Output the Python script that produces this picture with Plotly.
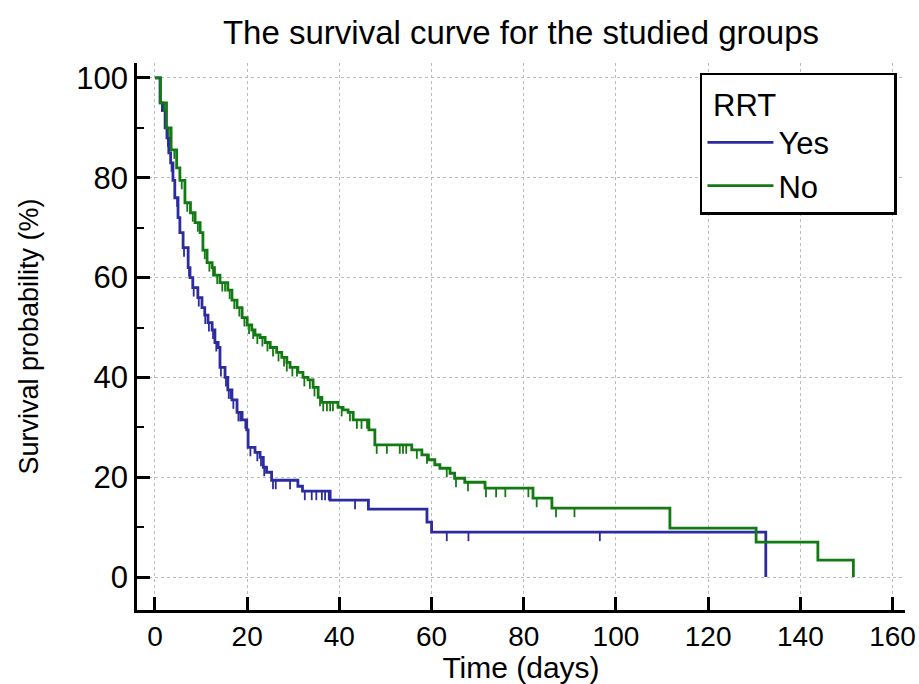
import numpy as np
import plotly.graph_objects as go

# ---- data ----
yes_time = [0, 1.1, 1.7, 2.2, 2.6, 3.0, 3.4, 3.9, 4.3, 5.0, 5.4, 6.1, 7.2, 7.6, 8.2, 9.3,
            10.2, 10.8, 11.5, 12.4, 13.0, 13.7, 14.1, 15.2, 15.8, 16.7, 17.8, 18.9, 19.9,
            20.2, 21.7, 22.8, 23.5, 24.2, 25.3, 31.0, 32.0, 38.0, 46.3, 59.0, 60.0, 132.5]
yes_surv = [100, 95, 93.5, 90, 88, 85, 83, 79.5, 76, 72, 69, 66, 62, 60, 58, 56,
            54, 52.5, 51, 49.5, 47, 46, 42, 40, 37.5, 35.5, 33, 31.5, 29.5,
            26, 25, 24, 22, 21, 19.4, 18.2, 17.2, 15.4, 13.6, 11, 9, 0]
yes_censored = [1.5, 2.8, 3.6, 4.8, 6.3, 7.4, 8.4, 9.5, 10.9, 11.7, 12.6, 13.3, 14.3, 15.4,
                16.0, 16.4, 17.0, 18.1, 18.5, 19.6, 20.7, 22.2, 23.0, 23.7, 25.6, 26.2,
                29.3, 32.5, 34.0, 35.0, 36.2, 36.9, 37.7, 43.4, 63.3, 68.0, 96.5]

no_time = [0, 1.2, 2.5, 3.5, 4.7, 5.4, 6.5, 7.7, 8.7, 9.8, 10.4, 11.3, 12.4, 12.9, 14.1,
           15.8, 16.7, 17.8, 18.9, 20.0, 21.0, 21.7, 22.8, 23.9, 25.0, 26.4, 27.5, 28.6,
           29.3, 31.0, 32.1, 33.2, 34.3, 35.4, 36.2, 39.7, 40.8, 41.9, 43.0, 46.4, 47.7,
           55.7, 57.9, 59.3, 60.7, 61.8, 64.0, 65.0, 67.2, 71.6, 82.0, 86.1, 111.7, 130.4,
           143.8, 151.5]
no_surv = [100, 95, 90, 85.6, 82, 79.5, 75, 73, 71, 69, 65.5, 63, 62, 60.5, 59,
           57.5, 55.5, 54, 52, 50.5, 49.5, 48.5, 48, 47, 46, 45, 44, 43,
           42, 41, 40, 39.5, 38, 36, 35, 34, 33.5, 33, 31.5, 29.5, 26.5,
           25.5, 24.5, 23.5, 22.5, 21.8, 20.8, 19.8, 19, 17.8, 15.8, 13.8, 9.8, 7,
           3.4, 0]
no_censored = [2.0, 3.0, 4.2, 5.8, 7.0, 8.2, 9.3, 10.8, 11.8, 12.6, 13.5, 14.6, 15.2, 16.2,
               17.2, 18.3, 19.4, 20.4, 21.3, 22.2, 23.3, 24.4, 25.6, 26.8, 28.0, 28.6, 29.8,
               30.8, 32.4, 33.6, 34.6, 35.8, 36.5, 37.3, 38.0, 38.6, 40.5, 42.3, 43.8, 44.8,
               46.0, 48.1, 50.3, 53.1, 53.8, 54.5, 56.8, 59.0, 63.3, 65.3, 67.9, 71.8, 74.0,
               76.0, 81.0, 82.8, 87.0, 91.0]

x_ticks = [0, 20, 40, 60, 80, 100, 120, 140, 160]
y_ticks = [0, 20, 40, 60, 80, 100]

BLUE = "#2c2ca0"
GREEN = "#137a13"
FONT = "Liberation Sans, Arial, sans-serif"
TICK_LEN = 1.8  # censor mark length in % units
NBSP = "\u00a0"


def step_value(times, surv, t):
    idx = np.searchsorted(np.array(times), t, side="right") - 1
    return surv[max(idx, 0)]


def censor_segments(times, surv, cens):
    xs, ys = [], []
    for t in cens:
        s = step_value(times, surv, t)
        xs += [t, t, None]
        ys += [s, s - TICK_LEN, None]
    return xs, ys


fig = go.Figure()
for name, t, s, c, col in [("Yes", yes_time, yes_surv, yes_censored, BLUE),
                           ("No", no_time, no_surv, no_censored, GREEN)]:
    fig.add_trace(go.Scatter(x=t, y=s, mode="lines", line=dict(color=col, width=2.8, shape="hv"),
                             name=name + NBSP * 7, legendgroup=name))
    cx, cy = censor_segments(t, s, c)
    fig.add_trace(go.Scatter(x=cx, y=cy, mode="lines", line=dict(color=col, width=1.8),
                             showlegend=False, legendgroup=name, hoverinfo="skip"))

axis_common = dict(showline=True, linecolor="black", linewidth=2.5, ticks="inside",
                   tickcolor="black", tickwidth=2.5, ticklen=13, mirror=False, zeroline=False,
                   showgrid=True, gridcolor="#bbbbbb", griddash="dot", gridwidth=1,
                   automargin=False)

fig.update_xaxes(range=[-3.9, 162.7], tickvals=x_ticks, ticktext=[str(v) for v in x_ticks],
                 tickfont=dict(size=28, color="black", family=FONT),
                 title=dict(text="Time (days)", font=dict(size=30, color="black", family=FONT), standoff=7),
                 **axis_common)
fig.update_yaxes(range=[-6.6, 103], tickvals=y_ticks, ticktext=[str(v) for v in y_ticks],
                 tickfont=dict(size=31, color="black", family=FONT),
                 minor=dict(tickvals=[10, 30, 50, 70, 90], ticks="inside", ticklen=7, tickwidth=2,
                            tickcolor="black", showgrid=False),
                 title=dict(text="Survival probability (%)", font=dict(size=27, color="black", family=FONT), standoff=30),
                 **axis_common)

fig.update_layout(
    width=919, height=684,
    margin=dict(l=137, r=14, t=63, b=74),
    paper_bgcolor="white", plot_bgcolor="white",
    title=dict(text="The survival curve for the studied groups", x=0.5, xref="paper",
               y=0.953, yref="container", xanchor="center", yanchor="middle",
               font=dict(size=33, color="black", family=FONT)),
    legend=dict(title=dict(text=NBSP + "RRT", side="top", font=dict(size=31, color="black", family=FONT)),
                x=0.733, y=0.982, xanchor="left", yanchor="top",
                bgcolor="white", bordercolor="black", borderwidth=2.5,
                font=dict(size=31, color="black", family=FONT),
                itemwidth=66, tracegroupgap=0),
    showlegend=True,
)

fig.write_html("out.html", config={"displayModeBar": False},
               post_script="document.body.style.margin='0';")
